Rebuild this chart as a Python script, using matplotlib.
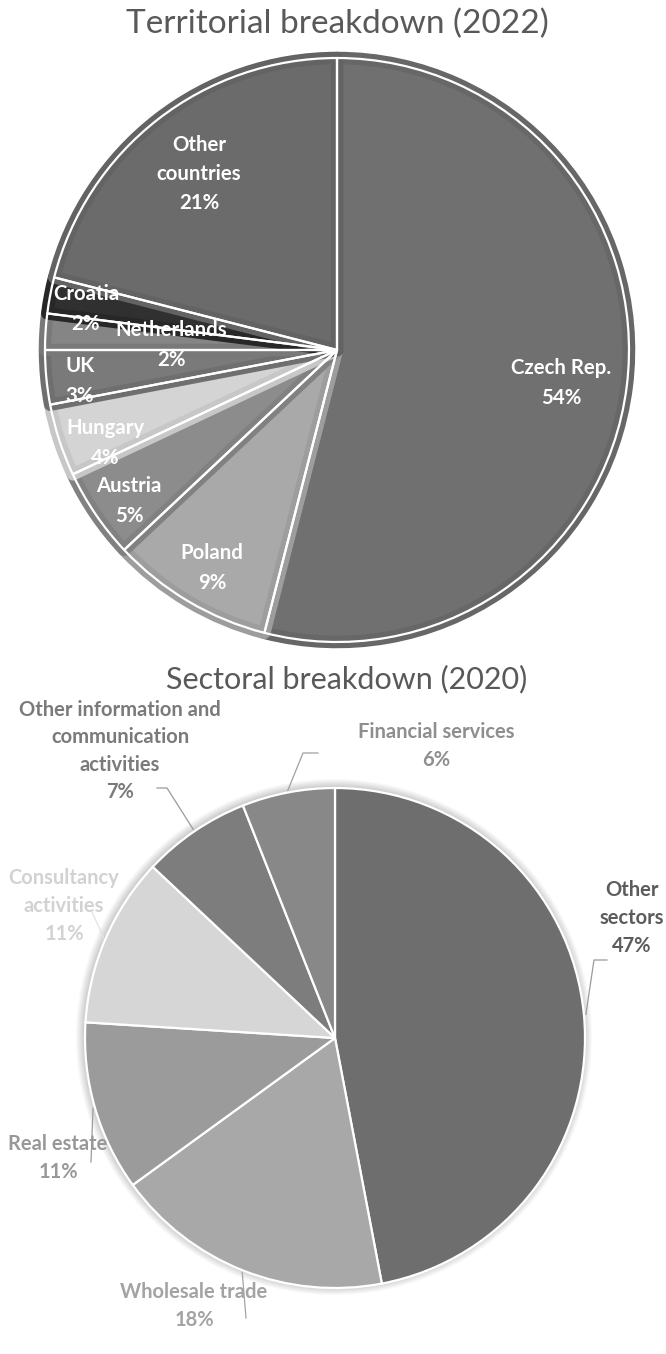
import numpy as np
import matplotlib.pyplot as plt
from matplotlib.patches import Circle

W, H = 666, 1354

# territorial breakdown (2022)
countries = ["Czech Rep.", "Poland", "Austria", "Hungary", "UK",
             "Netherlands", "Croatia", "Other\ncountries"]
country_share = [54, 9, 5, 4, 3, 2, 2, 21]
country_fill = ["#707070", "#a9a9a9", "#8c8c8c", "#d4d4d4", "#7a7a7a",
                "#858585", "#303030", "#6b6b6b"]
country_rim = ["#676767", "#9d9d9d", "#818181", "#c7c7c7", "#6f6f6f",
               "#797979", "#272727", "#636363"]

# sectoral breakdown (2020)
sectors = ["Other\nsectors", "Wholesale trade", "Real estate",
           "Consultancy\nactivities",
           "Other information and\ncommunication\nactivities",
           "Financial services"]
sector_share = [47, 18, 11, 11, 7, 6]
sector_fill = ["#6e6e6e", "#a8a8a8", "#9b9b9b", "#d6d6d6", "#7d7d7d", "#888888"]
sector_text = ["#5c5c5c", "#a3a3a3", "#989898", "#d2d2d2", "#7a7a7a", "#8e8e8e"]
leader_color = ["#9a9a9a", "#a4a4a4", "#9c9c9c", "#e2e2e2", "#9a9a9a", "#a0a0a0"]

plt.rcParams['font.family'] = ['Lato', 'DejaVu Sans']


def Y(py):
    # pixel row -> data y (origin at the bottom)
    return H - py


fig = plt.figure(figsize=(W / 100, H / 100), dpi=100)
ax = fig.add_axes([0, 0, 1, 1])

# ---- top pie ----
c1 = (337, Y(350))
r1 = 292
wedges, _ = ax.pie(country_share, colors=country_fill, startangle=90,
                   counterclock=False, center=c1, radius=r1,
                   wedgeprops=dict(edgecolor="none"))
# darker inner rim on every slice: wide stroke clipped to the slice itself
for w, rim in zip(wedges, country_rim):
    w.set_edgecolor(rim)
    w.set_linewidth(9)
    w.set_joinstyle("round")
    w.set_clip_path(w)
ax.pie(country_share, colors=["none"] * len(country_share), startangle=90,
       counterclock=False, center=c1, radius=r1,
       wedgeprops=dict(edgecolor="white", linewidth=1.6, fill=False,
                       joinstyle="round"))

top_pos = [(561, 383), (212, 568), (129, 501), (105, 443), (80, 381),
           (171, 345), (86, 309), (199, 174)]
for name, v, (px, py) in zip(countries, country_share, top_pos):
    ax.text(px, Y(py), f"{name}\n{v}%", ha="center", va="center",
            color="white", fontsize=14.7, fontweight="bold", linespacing=1.58)

ax.text(337, Y(24), "Territorial breakdown (2022)", ha="center", va="center",
        color="#595959", fontsize=24)

# ---- bottom pie ----
c2 = (335, Y(1038))
r2 = 250
for k in range(1, 9):
    ax.add_patch(Circle((c2[0] - 1, c2[1] + 1), r2 + k, facecolor="black",
                        edgecolor="none", alpha=0.025, zorder=0))
ax.pie(sector_share, colors=sector_fill, startangle=90, counterclock=False,
       center=c2, radius=r2,
       wedgeprops=dict(edgecolor="white", linewidth=1.6))

bottom_pos = [(632, 918), (194, 1306), (58, 1158), (64, 906), (120, 751),
              (436, 746)]
# leader line bends (pixel coords) for each sector label
leaders = [[(594, 960), (607, 960)],
           [(246, 1318)],
           [(91, 1162)],
           [(92, 912)],
           [(167, 788), (157, 788)],
           [(303, 753), (318, 753)]]

cum = np.cumsum([0] + sector_share[:-1])
for i, (name, v) in enumerate(zip(sectors, sector_share)):
    mid = np.deg2rad(90 - (cum[i] + v / 2) * 3.6)
    sx = c2[0] + (r2 + 2) * np.cos(mid)
    sy = c2[1] + (r2 + 2) * np.sin(mid)
    xs = [sx] + [p[0] for p in leaders[i]]
    ys = [sy] + [Y(p[1]) for p in leaders[i]]
    ax.plot(xs, ys, color=leader_color[i], lw=0.9, zorder=3)
    px, py = bottom_pos[i]
    ax.text(px, Y(py), f"{name}\n{v}%", ha="center", va="center",
            color=sector_text[i], fontsize=14.5, fontweight="bold",
            linespacing=1.47, zorder=4)

ax.text(347, Y(679), "Sectoral breakdown (2020)", ha="center", va="center",
        color="#595959", fontsize=22)

ax.set_xlim(0, W)
ax.set_ylim(0, H)
ax.set_aspect("equal")
ax.axis("off")

fig.savefig("out.png", dpi=100, facecolor="white")
